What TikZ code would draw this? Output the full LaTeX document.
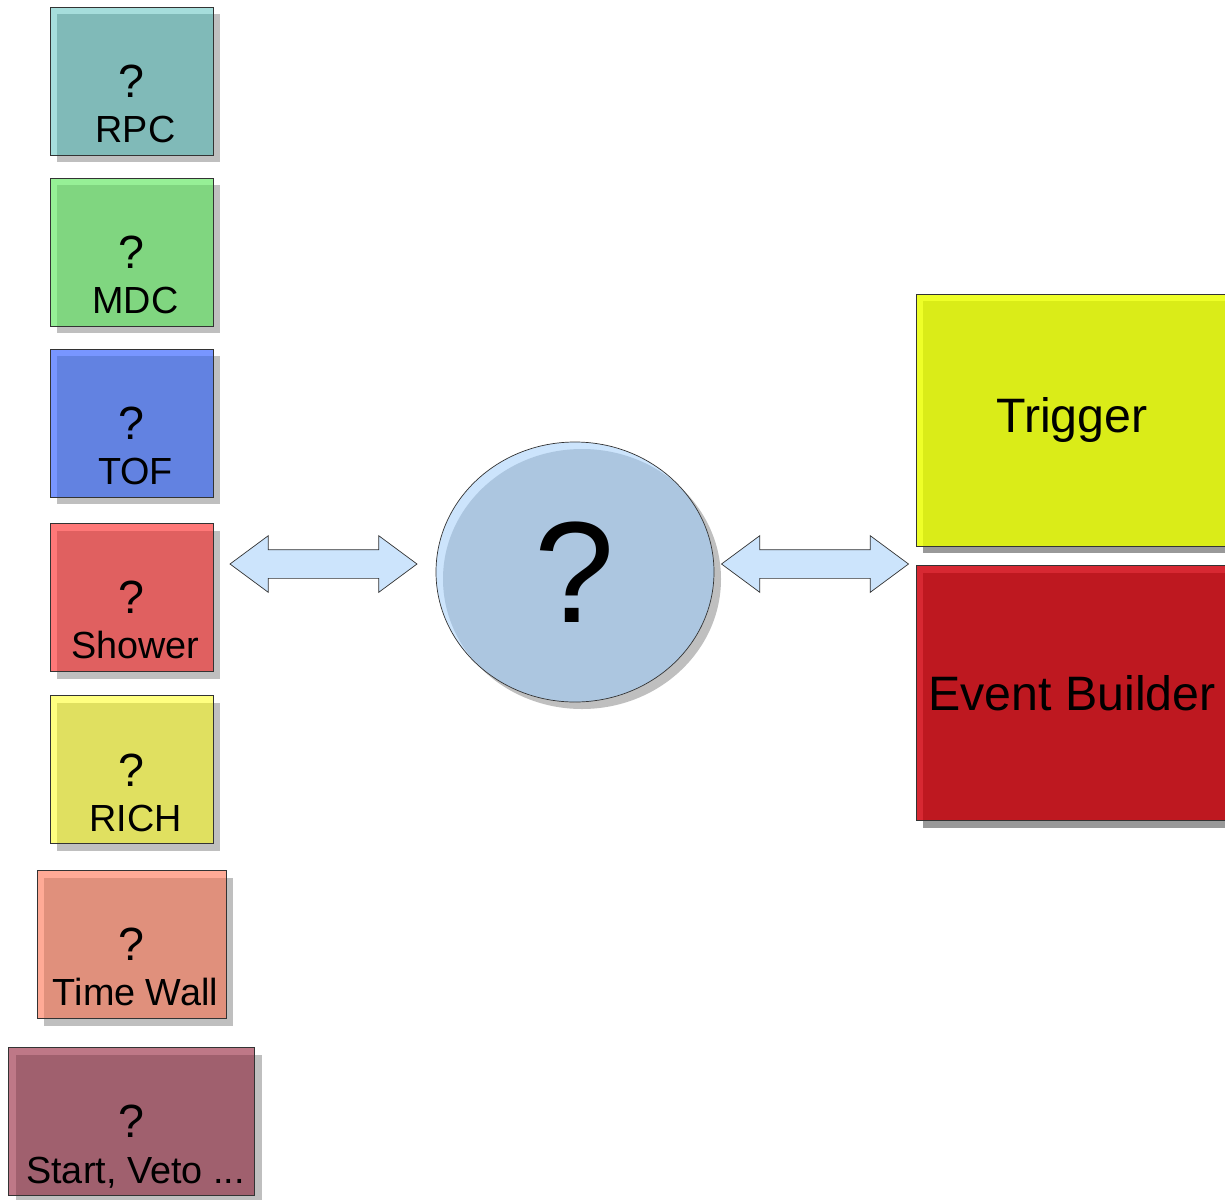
\documentclass[tikz,border=0pt]{standalone}
\usepackage{fontspec}
\setmainfont{Liberation Sans}
\usetikzlibrary{positioning,shapes.geometric,shapes.arrows,shadows}

\definecolor{rpcrim}{RGB}{166,222,220}   \definecolor{rpcfill}{RGB}{128,186,184}
\definecolor{mdcrim}{RGB}{150,240,150}   \definecolor{mdcfill}{RGB}{128,214,128}
\definecolor{tofrim}{RGB}{120,150,255}   \definecolor{toffill}{RGB}{98,130,225}
\definecolor{showerrim}{RGB}{255,120,120} \definecolor{showerfill}{RGB}{224,96,96}
\definecolor{richrim}{RGB}{255,255,128}  \definecolor{richfill}{RGB}{224,224,96}
\definecolor{twallrim}{RGB}{255,170,150} \definecolor{twallfill}{RGB}{224,144,124}
\definecolor{startrim}{RGB}{190,120,135} \definecolor{startfill}{RGB}{160,96,110}
\definecolor{trigrim}{RGB}{238,255,40}   \definecolor{trigfill}{RGB}{218,236,24}
\definecolor{evbrim}{RGB}{215,40,50}     \definecolor{evbfill}{RGB}{190,24,32}
\definecolor{hubrim}{RGB}{204,228,252}   \definecolor{hubfill}{RGB}{172,198,224}

\tikzset{detector/.style 2 args={
    rectangle,minimum width=3.26cm,minimum height=2.96cm,inner sep=0pt,
    draw=black!80,fill=#1,
    path picture={\fill[#2] ([shift={(0.14cm,-0.14cm)}]path picture bounding box.north west) rectangle (path picture bounding box.south east);},
    drop shadow={shadow xshift=0.14cm,shadow yshift=-0.14cm,fill=black!25,opacity=1},
    font=\fontsize{26.5}{30}\selectfont}}
\tikzset{detname/.style={anchor=base,xshift=0.8mm,font=\fontsize{21.5}{26}\selectfont}}
\tikzset{system/.style 2 args={
    rectangle,minimum width=6.24cm,minimum height=5.04cm,inner sep=0pt,
    draw=black!80,fill=#1,
    path picture={\fill[#2] ([shift={(0.14cm,-0.14cm)}]path picture bounding box.north west) rectangle (path picture bounding box.south east);},
    drop shadow={shadow xshift=0.14cm,shadow yshift=-0.14cm,fill=black!40,opacity=1},
    font=\fontsize{27.5}{33}\selectfont}}
\tikzset{hub/.style={
    ellipse,minimum width=5.56cm,minimum height=5.2cm,inner sep=0pt,
    draw=black!80,fill=hubrim,
    path picture={\fill[hubfill] ([shift={(0.14cm,-0.14cm)}]path picture bounding box.center) ellipse [x radius=2.78cm,y radius=2.6cm];},
    drop shadow={shadow xshift=0.14cm,shadow yshift=-0.14cm,fill=black!25,opacity=1},
    font=\fontsize{82}{90}\selectfont}}
\tikzset{link/.style={
    double arrow,minimum height=3.74cm,minimum width=1.12cm,inner xsep=0pt,inner ysep=0.28cm,
    double arrow head extend=0.28cm,double arrow tip angle=73,
    draw=black!80,fill=hubrim}}

\begin{document}
\begin{tikzpicture}[node distance=4.5mm]
\useasboundingbox (0,0) rectangle (24.5,-23.98);

% detector boxes
\node (rpc)    [detector={rpcrim}{rpcfill}] at (2.63,-1.62) {?};
\node (mdc)    [detector={mdcrim}{mdcfill},below=of rpc] {?};
\node (tof)    [detector={tofrim}{toffill},below=4.4mm of mdc] {?};
\node (shower) [detector={showerrim}{showerfill},below=5.2mm of tof] {?};
\node (rich)   [detector={richrim}{richfill},below=4.7mm of shower] {?};
\node (twall)  [detector={twallrim}{twallfill},below=5.2mm of rich,minimum width=3.78cm] {?};
\node (start)  [detector={startrim}{startfill},below=5.7mm of twall,minimum width=4.92cm] {?};

\node (rpc-name)    [detname] at ([yshift=2.6mm]rpc.south)    {RPC};
\node (mdc-name)    [detname] at ([yshift=2.6mm]mdc.south)    {MDC};
\node (tof-name)    [detname] at ([yshift=2.6mm]tof.south)    {TOF};
\node (shower-name) [detname] at ([yshift=2.6mm]shower.south) {Shower};
\node (rich-name)   [detname] at ([yshift=2.6mm]rich.south)   {RICH};
\node (twall-name)  [detname] at ([yshift=2.6mm]twall.south)  {Time Wall};
\node (start-name)  [detname] at ([yshift=2.6mm]start.south)  {Start, Veto ...};

% middle
\node (in-link)  [link] at (6.47,-11.28) {};
\node (central)  [hub]  at (11.5,-11.44) {?};
\node (out-link) [link] at (16.3,-11.28) {};

% right side
\node (trigger) [system={trigrim}{trigfill}] at (21.44,-8.4) {Trigger};
\node (evb)     [system={evbrim}{evbfill},below=3.8mm of trigger,minimum height=5.1cm] {Event Builder};

\end{tikzpicture}
\end{document}
